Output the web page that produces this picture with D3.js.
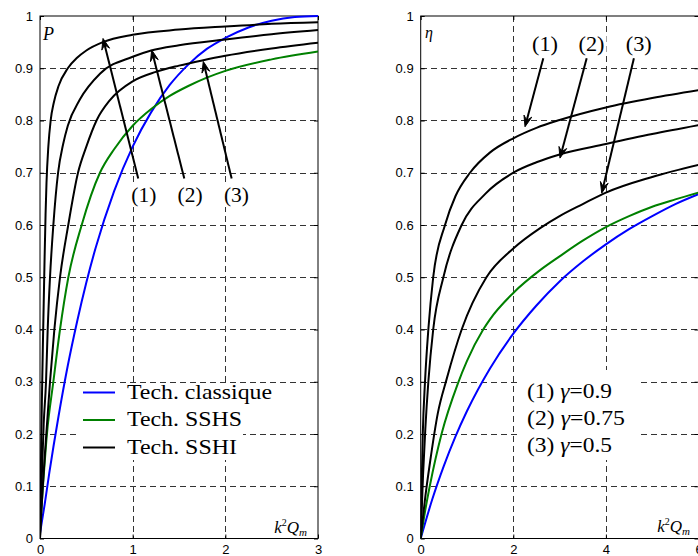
<!DOCTYPE html>
<html><head><meta charset="utf-8">
<script src="https://cdn.jsdelivr.net/npm/d3@7"></script>
<style>body{margin:0;background:#fff}svg{display:block}</style>
</head><body><svg id="c" width="698" height="556"></svg>
<script>
// ---------- data: left panel (P vs k2Qm) ----------
const leftXTicks = [0, 1, 2, 3];
const rightXTicks = [0, 2, 4, 6];
const yTicks = [0, 0.1, 0.2, 0.3, 0.4, 0.5, 0.6, 0.7, 0.8, 0.9, 1];
const yTickLabels = ["0", "0.1", "0.2", "0.3", "0.4", "0.5", "0.6", "0.7", "0.8", "0.9", "1"];

const pClassique = [[0,0.01],[0.05,0.065],[0.1,0.125],[0.2,0.234],[0.3,0.331],[0.4,0.415],[0.5,0.49],[0.6,0.556],[0.8,0.665],[1,0.75],[1.2,0.816],[1.4,0.868],[1.6,0.907],[1.8,0.937],[2,0.958],[2.25,0.978],[2.5,0.991],[2.75,0.998],[3,1.0]];
const pSSHS = [[0,0.02],[0.04,0.12],[0.075,0.2],[0.144,0.3],[0.216,0.4],[0.306,0.5],[0.45,0.6],[0.647,0.7],[0.8,0.745],[1,0.79],[1.2,0.822],[1.4,0.847],[1.6,0.866],[1.8,0.882],[2,0.895],[2.5,0.917],[3,0.932]];
const pSSHI1 = [[0,0],[0.01,0.14],[0.02,0.26],[0.03,0.36],[0.04,0.45],[0.05,0.54],[0.06,0.62],[0.07,0.68],[0.09,0.75],[0.115,0.8],[0.15,0.835],[0.2,0.866],[0.3,0.9],[0.4,0.92],[0.5,0.934],[0.68,0.95],[1,0.964],[1.5,0.974],[2,0.98],[2.5,0.985],[3,0.988]];
const pSSHI2 = [[0,0],[0.02,0.12],[0.04,0.22],[0.065,0.3],[0.083,0.4],[0.108,0.5],[0.144,0.6],[0.195,0.7],[0.25,0.755],[0.3,0.79],[0.43,0.84],[0.65,0.89],[1,0.922],[1.2,0.934],[1.5,0.944],[2,0.955],[2.5,0.965],[3,0.973]];
const pSSHI3 = [[0,0],[0.03,0.1],[0.06,0.18],[0.108,0.3],[0.155,0.4],[0.216,0.5],[0.305,0.6],[0.41,0.7],[0.5,0.75],[0.61,0.8],[0.755,0.839],[1,0.875],[1.25,0.893],[1.5,0.905],[1.75,0.915],[2,0.924],[2.5,0.938],[3,0.949]];

// ---------- data: right panel (eta vs k2Qm) ----------
const etaClassique = [[0,0],[0.25,0.075],[0.5,0.139],[0.75,0.195],[1,0.244],[1.5,0.326],[2,0.392],[2.5,0.446],[3,0.492],[3.5,0.53],[4,0.563],[4.5,0.592],[5,0.617],[5.5,0.64],[6,0.659]];
const etaSSHS = [[0,0],[0.1,0.055],[0.2,0.102],[0.45,0.2],[0.8,0.296],[1,0.34],[1.35,0.4],[1.5,0.42],[2,0.47],[2.6,0.515],[3,0.54],[3.5,0.57],[4,0.596],[4.5,0.617],[5,0.635],[5.5,0.649],[6,0.662]];
const etaSSHI1 = [[0,0],[0.02,0.1],[0.045,0.2],[0.093,0.3],[0.165,0.4],[0.27,0.5],[0.525,0.6],[0.75,0.655],[1.065,0.7],[1.5,0.739],[2,0.766],[2.5,0.786],[3,0.801],[4,0.825],[5,0.843],[6,0.858]];
const etaSSHI2 = [[0,0],[0.05,0.12],[0.1,0.21],[0.165,0.3],[0.27,0.4],[0.49,0.5],[0.885,0.6],[1.4,0.66],[2.04,0.702],[2.5,0.72],[3,0.735],[4,0.755],[5,0.774],[6,0.791]];
const etaSSHI3 = [[0,0],[0.1,0.08],[0.2,0.145],[0.37,0.24],[0.56,0.305],[0.885,0.4],[1.42,0.5],[2,0.555],[2.58,0.594],[3,0.617],[3.5,0.64],[4,0.662],[5,0.692],[6,0.715]];

const legendLabels = ["Tech. classique", "Tech. SSHS", "Tech. SSHI"];
const seriesColors = ["#0000ff", "#008000", "#000000"];
const gammaLabels = ["(1) ", "(2) ", "(3) "];
const gammaValues = ["=0.9", "=0.75", "=0.5"];
const curveTags = ["(1)", "(2)", "(3)"];

// annotation arrows in data coordinates
const leftArrows = [[[1.06,0.689],[0.68,0.957]],[[1.557,0.689],[1.205,0.935]],[[2.068,0.689],[1.762,0.913]]];
const leftTagX = [1.12, 1.62, 2.12];
const rightArrows = [[[2.648,0.919],[2.253,0.788]],[[3.585,0.919],[3.008,0.728]],[[4.605,0.919],[3.91,0.661]]];
const rightTagX = [2.685, 3.69, 4.71];

// ---------- drawing ----------
const svg = d3.select("#c");
svg.append("rect").attr("width",698).attr("height",556).attr("fill","#fff");
const SANS = "'Liberation Sans', Arial, sans-serif";
const SERIF = "'Liberation Serif', 'Times New Roman', serif";

function panel(id, xDomain, xRange, xTicks) {
  const x = d3.scaleLinear().domain(xDomain).range(xRange);
  const y = d3.scaleLinear().domain([0,1]).range([538.5,16]);
  const g = svg.append("g");
  const clip = g.append("clipPath").attr("id","clip"+id);
  clip.append("rect").attr("x",xRange[0]).attr("y",15).attr("width",xRange[1]-xRange[0]).attr("height",524.5);
  // grid
  const grid = g.append("g").attr("stroke","#333").attr("stroke-width",1).attr("stroke-dasharray","6,4").attr("shape-rendering","crispEdges");
  xTicks.slice(1,-1).forEach(t => grid.append("line").attr("x1",Math.round(x(t))+0.5).attr("x2",Math.round(x(t))+0.5).attr("y1",y(1)).attr("y2",y(0)));
  yTicks.slice(1,-1).forEach(t => grid.append("line").attr("y1",Math.round(y(t))+0.5).attr("y2",Math.round(y(t))+0.5).attr("x1",x(xDomain[0])).attr("x2",x(xDomain[1])));
  // axes via d3
  const ax = g.append("g");
  const bottom = ax.append("g").attr("transform",`translate(0,${y(0)})`)
    .call(d3.axisBottom(x).tickValues(xTicks).tickSize(-4).tickPadding(6).tickFormat(d3.format("d")));
  const left = ax.append("g").attr("transform",`translate(${x(xDomain[0])},0)`)
    .call(d3.axisLeft(y).tickValues(yTicks).tickSize(-4).tickPadding(7).tickFormat((d,i)=>yTickLabels[i]));
  ax.append("g").attr("transform",`translate(0,${y(1)})`)
    .call(d3.axisTop(x).tickValues(xTicks).tickSize(-4).tickFormat(""));
  ax.append("g").attr("transform",`translate(${x(xDomain[1])},0)`)
    .call(d3.axisRight(y).tickValues(yTicks).tickSize(-4).tickFormat(""));
  ax.selectAll(".domain").remove();
  ax.selectAll("line").attr("stroke","#000");
  ax.selectAll("text").attr("fill","#000").style("font-family",SANS).style("font-size","13px");
  bottom.selectAll("text").attr("dy","0.72em");
  // border
  g.append("rect").attr("x",x(xDomain[0])).attr("y",y(1)).attr("width",x(xDomain[1])-x(xDomain[0])).attr("height",y(0)-y(1))
    .attr("fill","none").attr("stroke","#000").attr("stroke-width",1);
  const plot = g.append("g").attr("clip-path",`url(#clip${id})`);
  return {x, y, g, plot};
}

function drawSeries(p, data, color) {
  const line = d3.line().x(d=>p.x(d[0])).y(d=>p.y(d[1])).curve(d3.curveMonotoneX);
  p.plot.append("path").datum(data).attr("d",line).attr("fill","none").attr("stroke",color).attr("stroke-width",2).attr("stroke-linejoin","round");
}

function arrow(g, x1, y1, x2, y2) {
  const dx = x2-x1, dy = y2-y1, len = Math.hypot(dx,dy);
  const ux = dx/len, uy = dy/len, nx = -uy, ny = ux;
  const L = 11, W = 4;
  g.append("line").attr("x1",x1).attr("y1",y1).attr("x2",x2-ux*6).attr("y2",y2-uy*6).attr("stroke","#000").attr("stroke-width",2);
  const pts = [[x2,y2],[x2-ux*L+nx*W,y2-uy*L+ny*W],[x2-ux*L*0.6,y2-uy*L*0.6],[x2-ux*L-nx*W,y2-uy*L-ny*W]];
  g.append("polygon").attr("points",pts.map(p=>p.join(",")).join(" ")).attr("fill","#000").attr("stroke","#000").attr("stroke-width",1);
}

function axisName(g, xEnd, yBase) {
  const t = g.append("text").attr("x",xEnd).attr("y",yBase).attr("text-anchor","end")
    .attr("font-family",SERIF).attr("font-style","italic").attr("font-size",17).attr("fill","#000");
  t.append("tspan").text("k");
  t.append("tspan").attr("font-size",10).attr("font-style","normal").attr("dy",-7).text("2");
  t.append("tspan").attr("dy",7).text("Q");
  t.append("tspan").attr("font-size",11).attr("dy",3).text("m");
}

function boxedText(g, str, cx, base, size, width) {
  const t = g.append("text").attr("x",cx).attr("y",base).attr("text-anchor","middle")
    .attr("font-family",SERIF).attr("font-size",size).attr("fill","#000").text(str)
    .attr("textLength",width).attr("lengthAdjust","spacingAndGlyphs");
  const b = t.node().getBBox();
  g.insert("rect", function(){ return t.node(); }).attr("x",b.x-2).attr("y",b.y).attr("width",b.width+4).attr("height",b.height).attr("fill","#fff");
}

// ---- left panel
const PL = panel("L", [0,3], [40,318], leftXTicks);
drawSeries(PL, pClassique, seriesColors[0]);
drawSeries(PL, pSSHS, seriesColors[1]);
[pSSHI1, pSSHI2, pSSHI3].forEach(s => drawSeries(PL, s, seriesColors[2]));
PL.g.append("text").attr("x",43).attr("y",40).attr("font-family",SERIF).attr("font-style","italic").attr("font-size",18).text("P");
axisName(PL.g, 307, 533);
// legend
const leg = PL.g.append("g");
leg.append("rect").attr("x",78).attr("y",383).attr("width",165).attr("height",77).attr("fill","#fff");
const legY = d3.scalePoint().domain(legendLabels).range([392.5,447.5]);
const legW = [145, 115, 110];
legendLabels.forEach((lab,i) => {
  leg.append("line").attr("x1",83).attr("x2",115).attr("y1",legY(lab)).attr("y2",legY(lab)).attr("stroke",seriesColors[i]).attr("stroke-width",2);
  leg.append("text").attr("x",127).attr("y",legY(lab)+6).attr("font-family",SERIF).attr("font-size",21)
    .attr("textLength",legW[i]).attr("lengthAdjust","spacingAndGlyphs").text(lab);
});
curveTags.forEach((tag,i) => {
  boxedText(PL.g, tag, PL.x(leftTagX[i]), 202, 21, 25);
  const a = leftArrows[i];
  arrow(PL.g, PL.x(a[0][0]), PL.y(a[0][1]), PL.x(a[1][0]), PL.y(a[1][1]));
});

// ---- right panel
const PR = panel("R", [0,6], [420.7,698.5], rightXTicks);
drawSeries(PR, etaClassique, seriesColors[0]);
drawSeries(PR, etaSSHS, seriesColors[1]);
[etaSSHI1, etaSSHI2, etaSSHI3].forEach(s => drawSeries(PR, s, seriesColors[2]));
PR.g.append("text").attr("x",425).attr("y",38).attr("font-family",SERIF).attr("font-style","italic").attr("font-size",16).text("η");
axisName(PR.g, 690, 532);
const ann = PR.g.append("g");
ann.append("rect").attr("x",520).attr("y",370).attr("width",117).attr("height",90).attr("fill","#fff");
const annW = [85, 98, 85];
gammaLabels.forEach((lab,i) => {
  const t = ann.append("text").attr("x",527).attr("y",398 + i*27).attr("font-family",SERIF).attr("font-size",21)
    .attr("textLength",annW[i]).attr("lengthAdjust","spacingAndGlyphs");
  t.append("tspan").text(lab);
  t.append("tspan").attr("font-style","italic").text("γ");
  t.append("tspan").text(gammaValues[i]);
});
curveTags.forEach((tag,i) => {
  boxedText(PR.g, tag, PR.x(rightTagX[i]), 51, 21, 26);
  const a = rightArrows[i];
  arrow(PR.g, PR.x(a[0][0]), PR.y(a[0][1]), PR.x(a[1][0]), PR.y(a[1][1]));
});
</script>
</body></html>
